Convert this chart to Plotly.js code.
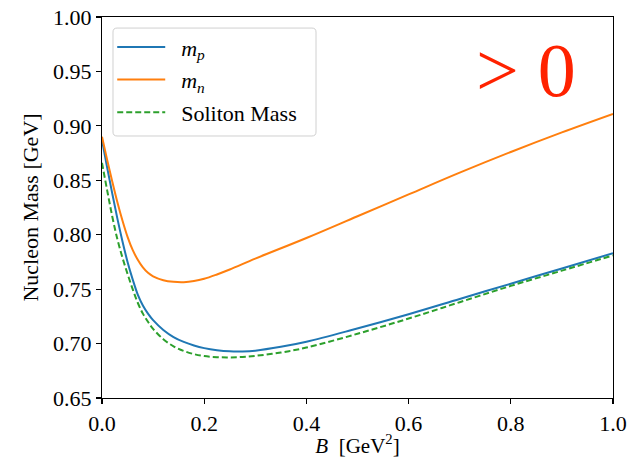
<!DOCTYPE html>
<html>
<head>
<meta charset="utf-8">
<script src="https://cdn.plot.ly/plotly-3.0.1.min.js"></script>
<style>html,body{margin:0;padding:0;background:#fff;}#chart{width:643px;height:458px;}</style>
</head>
<body>
<div id="chart"></div>
<script>
// Data
const bProton = [0, 0.01, 0.02, 0.03, 0.04, 0.05, 0.06, 0.07, 0.08, 0.09, 0.10, 0.12, 0.14, 0.16, 0.18, 0.20, 0.225, 0.25, 0.275, 0.30, 0.35, 0.40, 0.485, 0.6, 0.7, 0.8, 0.9, 1.0];
const mProton = [0.887, 0.862, 0.838, 0.815, 0.794, 0.775, 0.759, 0.745, 0.735, 0.7275, 0.7215, 0.7125, 0.706, 0.7015, 0.6982, 0.6958, 0.6939, 0.6929, 0.6928, 0.6935, 0.697, 0.7017, 0.712, 0.727, 0.741, 0.755, 0.769, 0.783];

const bNeutron = [0, 0.01, 0.02, 0.03, 0.04, 0.05, 0.06, 0.07, 0.08, 0.09, 0.10, 0.12, 0.14, 0.16, 0.18, 0.20, 0.225, 0.25, 0.3, 0.4, 0.5, 0.6, 0.7, 0.8, 0.9, 1.0];
const mNeutron = [0.890, 0.869, 0.849, 0.830, 0.813, 0.798, 0.786, 0.777, 0.770, 0.765, 0.7618, 0.7582, 0.7567, 0.7564, 0.7574, 0.7595, 0.7635, 0.768, 0.778, 0.797, 0.817, 0.837, 0.857, 0.876, 0.894, 0.911];

const bSoliton = [0, 0.01, 0.02, 0.03, 0.04, 0.05, 0.06, 0.07, 0.08, 0.09, 0.10, 0.12, 0.14, 0.16, 0.18, 0.20, 0.225, 0.25, 0.275, 0.30, 0.35, 0.40, 0.5, 0.6, 0.7, 0.8, 0.9, 1.0];
const mSoliton = [0.866, 0.841, 0.817, 0.796, 0.779, 0.764, 0.750, 0.7375, 0.7275, 0.720, 0.7135, 0.704, 0.6975, 0.6932, 0.6903, 0.6885, 0.6875, 0.6873, 0.6877, 0.6887, 0.6918, 0.6963, 0.709, 0.723, 0.738, 0.753, 0.767, 0.781];

const xTicks = [0, 0.2, 0.4, 0.6, 0.8, 1.0];
const xTickLabels = ['0.0', '0.2', '0.4', '0.6', '0.8', '1.0'];
const yTicks = [0.65, 0.70, 0.75, 0.80, 0.85, 0.90, 0.95, 1.00];
const yTickLabels = ['0.65', '0.70', '0.75', '0.80', '0.85', '0.90', '0.95', '1.00'];

const serif = '"Liberation Serif", "Times New Roman", serif';
const pad = '&nbsp;&nbsp;';

const traces = [
  {x: bProton, y: mProton, mode: 'lines', name: pad + '<i>m</i><sub><i>p</i></sub>', legendgroup: 'a',
   line: {color: '#1f77b4', width: 2, shape: 'spline'}},
  {x: bNeutron, y: mNeutron, mode: 'lines', name: pad + '<i>m</i><sub><i>n</i></sub>', legendgroup: 'b',
   line: {color: '#ff7f0e', width: 2, shape: 'spline'}},
  {x: bSoliton, y: mSoliton, mode: 'lines', name: pad + 'Soliton Mass', legendgroup: 'c',
   line: {color: '#2ca02c', width: 2, shape: 'spline', dash: '6px,3px'}}
];

const layout = {
  width: 643, height: 458,
  margin: {l: 102, r: 30, t: 17, b: 60},
  paper_bgcolor: '#fff', plot_bgcolor: '#fff',
  font: {family: serif, size: 22, color: '#000'},
  showlegend: true,
  legend: {x: 0.02, y: 0.976, xanchor: 'left', yanchor: 'top',
           bgcolor: 'rgba(0,0,0,0)', borderwidth: 0,
           font: {family: serif, size: 22}, itemwidth: 48,
           traceorder: 'grouped', tracegroupgap: 1},
  shapes: [{
    type: 'path', xref: 'paper', yref: 'paper', layer: 'above',
    path: 'M 0.0295,0.971 L 0.4108,0.971 Q 0.4188,0.971 0.4188,0.9605 L 0.4188,0.6982 Q 0.4188,0.6877 0.4108,0.6877 L 0.0295,0.6877 Q 0.0215,0.6877 0.0215,0.6982 L 0.0215,0.9605 Q 0.0215,0.971 0.0295,0.971 Z',
    fillcolor: 'rgba(255,255,255,0.8)', line: {color: '#d0d0d0', width: 1}
  }],
  xaxis: {range: [0, 1], tickvals: xTicks, ticktext: xTickLabels,
          showgrid: false, zeroline: false, showline: true, mirror: true,
          linecolor: '#000', linewidth: 1.2, ticks: 'outside', ticklen: 5, tickwidth: 1.2,
          tickcolor: '#000', tickfont: {family: serif, size: 22},
          title: {text: '<i>B</i>  [GeV<sup>2</sup>]', font: {family: serif, size: 21}, standoff: 4}},
  yaxis: {range: [0.65, 1.0], tickvals: yTicks, ticktext: yTickLabels,
          showgrid: false, zeroline: false, showline: true, mirror: true,
          linecolor: '#000', linewidth: 1.2, ticks: 'outside', ticklen: 5, tickwidth: 1.2,
          tickcolor: '#000', tickfont: {family: serif, size: 22},
          title: {text: 'Nucleon Mass [GeV]', font: {family: serif, size: 22}, standoff: 8}},
  annotations: [{
    xref: 'paper', yref: 'paper', x: 0.83, y: 0.86, xanchor: 'center', yanchor: 'middle',
    text: '&gt; 0', showarrow: false,
    font: {family: serif, size: 76, color: '#ff2200'}
  }]
};

Plotly.newPlot('chart', traces, layout, {displayModeBar: false, staticPlot: true});
</script>
</body>
</html>
